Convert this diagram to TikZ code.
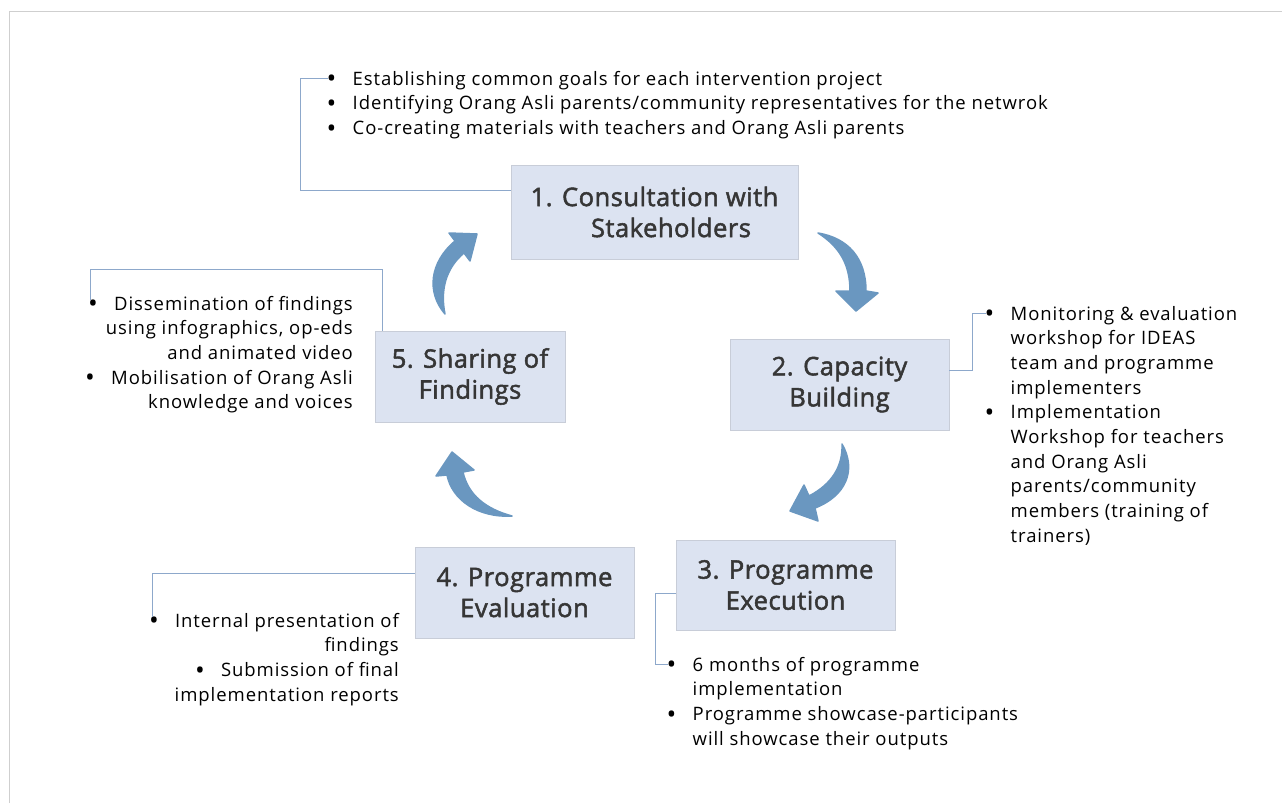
\documentclass[tikz,border=0pt]{standalone}
\usepackage{fontspec}
\setmainfont{Open Sans}
\newfontfamily\listfont[LetterSpace=5]{Open Sans}
\newfontfamily\titlefont[LetterSpace=2,FakeBold=2]{Open Sans}
\newcommand\notebullet{\makebox[26pt][l]{\raisebox{-2.6pt}{\fontsize{26}{26}\selectfont\textbullet}}}
\definecolor{stagefill}{HTML}{DCE3F1}
\definecolor{stageedge}{HTML}{C8CDD8}
\definecolor{linkblue}{HTML}{8DA8CB}
\definecolor{flowblue}{HTML}{6A97C0}
\definecolor{titlegray}{HTML}{363636}
\definecolor{framegray}{HTML}{CFCFCF}
\begin{document}
\begin{tikzpicture}[x=1pt,y=-1pt,
  stage/.style={fill=stagefill, draw=stageedge, line width=0.8pt, inner sep=0pt,
    align=center, text=titlegray, font=\titlefont\fontsize{25.5}{31}\selectfont},
  notes/.style={inner sep=0pt, text=black, font=\listfont\fontsize{18.5}{24.7}\selectfont},
  link/.style={draw=linkblue, line width=1pt},
  flow/.style={fill=flowblue, draw=flowblue, line width=1.5pt, line join=round}]
\useasboundingbox (0,0) rectangle (1282,803);

% outer frame
\draw[framegray, line width=1pt] (9,803) -- (9,11) -- (1282,11);

% the five stages
\node[stage, minimum width=287pt, minimum height=94pt] (b1) at (654.5,212)
  {1. Consultation with\\\hspace*{33pt}Stakeholders};
\node[stage, minimum width=219pt, minimum height=91pt] (b2) at (839.5,384.5)
  {2. Capacity\\Building};
\node[stage, minimum width=219pt, minimum height=90pt] (b3) at (785.5,585)
  {3. Programme\\Execution};
\node[stage, minimum width=219pt, minimum height=91pt] (b4) at (524.5,592.5)
  {4. Programme\\Evaluation};
\node[stage, minimum width=190pt, minimum height=91pt] (b5) at (470,376.5)
  {5. Sharing of\\Findings};

% notes for each stage
\node[notes, anchor=base west] (l1) at (326.5,85) {\begin{tabular}[t]{@{}l@{}}
  \notebullet Establishing common goals for each intervention project\\
  \notebullet Identifying Orang Asli parents/community representatives for the netwrok\\
  \notebullet Co-creating materials with teachers and Orang Asli parents
  \end{tabular}};
\node[notes, anchor=base west] (l2) at (984.5,320) {\begin{tabular}[t]{@{}l@{}l@{}}
  \notebullet & Monitoring \& evaluation\\
   & workshop for IDEAS\\
   & team and programme\\
   & implementers\\
  \notebullet & Implementation\\
   & Workshop for teachers\\
   & and Orang Asli\\
   & parents/community\\
   & members (training of\\
   & trainers)
  \end{tabular}};
\node[notes, anchor=base west] (l3) at (666.5,671) {\begin{tabular}[t]{@{}l@{}l@{}}
  \notebullet & 6 months of programme\\
   & implementation\\
  \notebullet & Programme showcase-participants\\
   & will showcase their outputs
  \end{tabular}};
\node[notes, anchor=base east] (l4) at (399,627) {\begin{tabular}[t]{@{}r@{}}
  \notebullet Internal presentation of\\
  findings\\
  \notebullet Submission of final\\
  implementation reports
  \end{tabular}};
\node[notes, anchor=base east] (l5) at (353,310) {\begin{tabular}[t]{@{}r@{}}
  \notebullet Dissemination of findings\\
  using infographics, op-eds\\
  and animated video\\
  \notebullet Mobilisation of Orang Asli\\
  knowledge and voices
  \end{tabular}};

% bullet points where the connectors end
\coordinate (l1bul) at (328,78);
\coordinate (l2bul) at (986,313);
\coordinate (l3bul) at (668,664);
\coordinate (l4bul) at (152,617);
\coordinate (l5bul) at (90,300);

% connectors from stages to their notes
\draw[link] ([yshift=22pt]b1.west) -| ([xshift=-28pt]l1bul) -- (l1bul);
\draw[link] ([yshift=14.5pt]b2.east) -| ([xshift=-14pt]l2bul) -- (l2bul);
\draw[link] ([yshift=-8pt]b3.west) -| ([xshift=-13pt]l3bul) -- (l3bul);
\draw[link] ([yshift=19.5pt]b4.west) -| (l4bul);
\draw[link] ([xshift=-88pt]b5.north) |- ([yshift=31pt]l5bul) -- (l5bul);

% curved cycle arrows
\filldraw[flow] (818,233) .. controls (848,238) and (866,258) .. (866,291)
  -- (878,293) -- (856,311) -- (836,291) -- (850,291)
  .. controls (850,265) and (840,247) .. cycle;
\filldraw[flow] (842,444) .. controls (857,470) and (846,496) .. (815,508)
  -- (818,521) -- (790,511) -- (804,485) -- (809,496)
  .. controls (832,484) and (843,466) .. cycle;
\filldraw[flow] (512,516) .. controls (478,518) and (452,500) .. (447,475)
  -- (436,476) -- (452,452) -- (474,470) -- (463,472)
  .. controls (468,495) and (486,509) .. cycle;
\filldraw[flow] (445,314) .. controls (426,292) and (430,262) .. (455,241)
  -- (449,233) -- (477,234) -- (470,261) -- (464,253)
  .. controls (446,268) and (440,290) .. cycle;
\end{tikzpicture}
\end{document}
